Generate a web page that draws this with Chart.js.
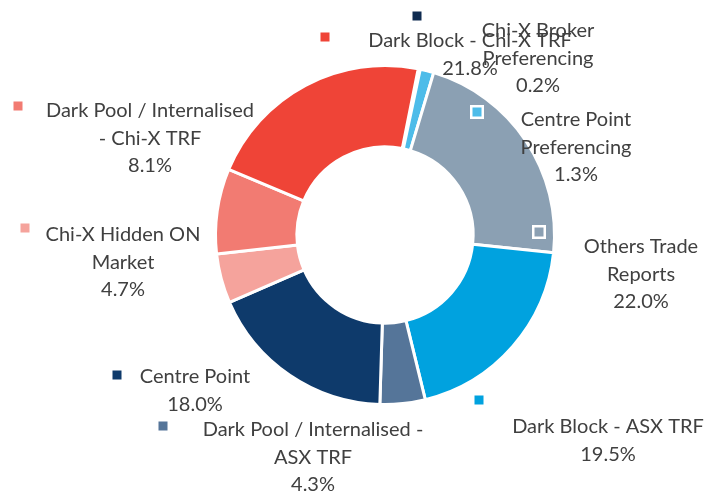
<!DOCTYPE html>
<html><head><meta charset="utf-8">
<script src="https://cdn.jsdelivr.net/npm/chart.js@4/dist/chart.umd.min.js"></script>
<style>html,body{margin:0;padding:0;background:#fff;overflow:hidden}</style>
</head><body>
<canvas id="c" width="707" height="491"></canvas>
<script>
const categories = [
  "Chi-X Broker Preferencing",
  "Centre Point Preferencing",
  "Others Trade Reports",
  "Dark Block - ASX TRF",
  "Dark Pool / Internalised - ASX TRF",
  "Centre Point",
  "Chi-X Hidden ON Market",
  "Dark Pool / Internalised - Chi-X TRF",
  "Dark Block - Chi-X TRF"
];
const shares = [0.2, 1.3, 22.0, 19.5, 4.3, 18.0, 4.7, 8.1, 21.8];
const colors = ["#0F2B50", "#4DBCE9", "#8BA0B3", "#00A2DF", "#557599", "#0E3A6B", "#F5A39C", "#F27B72", "#EF4437"];
// wrapped label text (layout only)
const labelLines = [
  ["Chi-X Broker", "Preferencing"],
  ["Centre Point", "Preferencing"],
  ["Others Trade", "Reports"],
  ["Dark Block - ASX TRF"],
  ["Dark Pool / Internalised -", "ASX TRF"],
  ["Centre Point"],
  ["Chi-X Hidden ON", "Market"],
  ["Dark Pool / Internalised", "- Chi-X TRF"],
  ["Dark Block - Chi-X TRF"]
];
const labelLayout = [
  {x: 538, y: 31, mx: 417, my: 16},
  {x: 576, y: 120, mx: 477, my: 112},
  {x: 641, y: 247, mx: 539, my: 232},
  {x: 608, y: 427, mx: 479, my: 400},
  {x: 313, y: 430, mx: 163, my: 426},
  {x: 195, y: 377, mx: 117, my: 375},
  {x: 123, y: 235, mx: 25, my: 228},
  {x: 150, y: 111, mx: 18, my: 106},
  {x: 470, y: 41, mx: 325, my: 37}
];

const labelPlugin = {
  id: 'sliceLabels',
  afterDatasetsDraw(chart) {
    const ctx = chart.ctx;
    ctx.save();
    ctx.font = '20px Lato';
    ctx.textAlign = 'center';
    ctx.textBaseline = 'middle';
    const lineH = 27.5;
    for (let i = 0; i < categories.length; i++) {
      const L = labelLayout[i];
      ctx.fillStyle = '#ffffff';
      ctx.fillRect(L.mx - 7, L.my - 7, 14, 14);
      ctx.fillStyle = colors[i];
      ctx.fillRect(L.mx - 4.5, L.my - 4.5, 9, 9);
    }
    for (let i = 0; i < categories.length; i++) {
      const L = labelLayout[i];
      const lines = labelLines[i].concat([shares[i].toFixed(1) + '%']);
      ctx.fillStyle = '#404040';
      lines.forEach((t, k) => ctx.fillText(t, L.x, L.y + k * lineH));
    }
    ctx.restore();
  }
};

new Chart(document.getElementById('c'), {
  type: 'doughnut',
  data: {
    labels: categories,
    datasets: [{
      data: shares,
      backgroundColor: colors,
      borderColor: '#ffffff',
      borderWidth: 3,
      hoverOffset: 0
    }]
  },
  options: {
    responsive: false,
    animation: false,
    devicePixelRatio: 1,
    rotation: 11.3,
    cutout: '52%',
    layout: {padding: {left: 214, right: 151, top: 64, bottom: 85}},
    plugins: {legend: {display: false}, tooltip: {enabled: false}}
  },
  plugins: [labelPlugin]
});
</script>
</body></html>
